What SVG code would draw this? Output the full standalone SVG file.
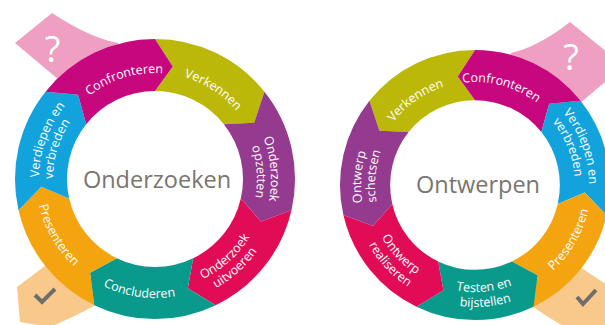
<svg xmlns="http://www.w3.org/2000/svg" width="605" height="325" viewBox="0 0 605 325">
  <style>
    .lbl{font-family:"Open Sans","Liberation Sans",sans-serif;font-size:12.5px;fill:#ffffff;}
    .title{font-family:"Open Sans","Liberation Sans",sans-serif;font-size:23.5px;fill:#7a7570;text-anchor:middle;}
    .mark{font-family:"Open Sans","Liberation Sans",sans-serif;font-size:36px;fill:#ffffff;text-anchor:middle;}
    .check{fill:none;stroke:#6e6e6e;stroke-width:4;}
    .magenta{fill:#c6077d;}
    .olive{fill:#bcb80a;}
    .purple{fill:#953b8f;}
    .crimson{fill:#e20b56;}
    .teal{fill:#0a9a8c;}
    .orange{fill:#f4a40e;}
    .blue{fill:#13a3dc;}
    .start{fill:#efa0c2;}
    .finish{fill:#f8c98b;}
  </style>
  <defs>
    <!-- one ring segment, clockwise arrow, spanning 0..360/7 degrees (outer 140, inner 88) -->
    <path id="segL" d="M0,-140 A140,140 0 0 1 109.456,-87.289 L99.142,-56.274 L68.801,-54.867 A88,88 0 0 0 0,-88 L17.833,-112.597 Z"/>
    <!-- mirrored, slightly smaller segment, counter-clockwise arrow -->
    <path id="segR" d="M0,-135 A135,135 0 0 0 -105.547,-84.172 L-95.601,-54.264 L-66.344,-52.907 A84.857,84.857 0 0 1 0,-84.857 L-17.196,-108.576 Z"/>
    <!-- label baselines: o* = over the top (text faces outward), i* = under the bottom (text faces inward) -->
    <path id="lo106" d="M-106,0 A106,106 0 0 1 106,0"/>
    <path id="lo116" d="M-116,0 A116,116 0 0 1 116,0"/>
    <path id="lo102" d="M-102,0 A102,102 0 0 1 102,0"/>
    <path id="li119" d="M-119,0 A119,119 0 0 0 119,0"/>
    <path id="li111" d="M-111,0 A111,111 0 0 0 111,0"/>
    <path id="li125" d="M-125,0 A125,125 0 0 0 125,0"/>
    <path id="ro103" d="M-103,0 A103,103 0 0 1 103,0"/>
    <path id="ro114" d="M-114,0 A114,114 0 0 1 114,0"/>
    <path id="ro100" d="M-100,0 A100,100 0 0 1 100,0"/>
    <path id="ri116" d="M-116,0 A116,116 0 0 0 116,0"/>
    <path id="ri107" d="M-107,0 A107,107 0 0 0 107,0"/>
    <path id="ri122" d="M-122,0 A122,122 0 0 0 122,0"/>
  </defs>

  <rect width="605" height="325" fill="#ffffff"/>

  <!-- entry and exit tabs behind the rings -->
  <g id="oz-vraag">
    <path class="start" d="M65,85 L15,43 L52,13 Q90,38 118,43 L125,75 Z"/>
    <text class="mark" x="52.5" y="62">?</text>
  </g>
  <g id="oz-klaar">
    <path class="finish" d="M58,256 L17,287 L20,322 L50,327 Q72,318 94,306 L100,285 Z"/>
    <path class="check" d="M35,295 L42,302 L55,289"/>
  </g>
  <g id="ow-vraag">
    <path class="start" d="M566,115 L624,66 L570,22 Q538,47 511,53 L504,85 Z"/>
    <text class="mark" x="571" y="70">?</text>
  </g>
  <g id="ow-klaar">
    <path class="finish" d="M566,258 L612,288 L612,330 L570,330 Q552,320 533,307 L528,287 Z"/>
    <path class="check" d="M577,297 L583,304 L596,290"/>
  </g>

  <!-- research cycle, clockwise -->
  <g id="onderzoeken" transform="translate(155,179)">
    <g id="oz-verkennen">
      <use href="#segL" class="olive"/>
      <text class="lbl" transform="rotate(33)"><textPath href="#lo106" startOffset="50%" text-anchor="middle">Verkennen</textPath></text>
    </g>
    <g id="oz-opzetten">
      <use href="#segL" class="purple" transform="rotate(51.43)"/>
      <text class="lbl" transform="rotate(85)"><textPath href="#lo116" startOffset="50%" text-anchor="middle">Onderzoek</textPath></text>
      <text class="lbl" transform="rotate(86)"><textPath href="#lo102" startOffset="50%" text-anchor="middle">opzetten</textPath></text>
    </g>
    <g id="oz-uitvoeren">
      <use href="#segL" class="crimson" transform="rotate(102.86)"/>
      <text class="lbl" transform="rotate(-42)"><textPath href="#li111" startOffset="50%" text-anchor="middle">Onderzoek</textPath></text>
      <text class="lbl" transform="rotate(-42)"><textPath href="#li125" startOffset="50%" text-anchor="middle">uitvoeren</textPath></text>
    </g>
    <g id="oz-concluderen">
      <use href="#segL" class="teal" transform="rotate(154.29)"/>
      <text class="lbl" transform="rotate(8)"><textPath href="#li119" startOffset="50%" text-anchor="middle">Concluderen</textPath></text>
    </g>
    <g id="oz-presenteren">
      <use href="#segL" class="orange" transform="rotate(205.71)"/>
      <text class="lbl" transform="rotate(60)"><textPath href="#li119" startOffset="50%" text-anchor="middle">Presenteren</textPath></text>
    </g>
    <g id="oz-verdiepen">
      <use href="#segL" class="blue" transform="rotate(257.14)"/>
      <text class="lbl" transform="rotate(290)"><textPath href="#lo116" startOffset="50%" text-anchor="middle">Verdiepen en</textPath></text>
      <text class="lbl" transform="rotate(287)"><textPath href="#lo102" startOffset="50%" text-anchor="middle">verbreden</textPath></text>
    </g>
    <g id="oz-confronteren">
      <use href="#segL" class="magenta" transform="rotate(308.57)"/>
      <text class="lbl" transform="rotate(343)"><textPath href="#lo106" startOffset="50%" text-anchor="middle">Confronteren</textPath></text>
    </g>
    <text id="oz-titel" class="title" x="2" y="9">Onderzoeken</text>
  </g>

  <!-- design cycle, counter-clockwise -->
  <g id="ontwerpen" transform="translate(475,185)">
    <g id="ow-verkennen">
      <use href="#segR" class="olive"/>
      <text class="lbl" transform="rotate(325)"><textPath href="#ro103" startOffset="50%" text-anchor="middle">Verkennen</textPath></text>
    </g>
    <g id="ow-confronteren">
      <use href="#segR" class="magenta" transform="rotate(51.43)"/>
      <text class="lbl" transform="rotate(15)"><textPath href="#ro103" startOffset="50%" text-anchor="middle">Confronteren</textPath></text>
    </g>
    <g id="ow-verdiepen">
      <use href="#segR" class="blue" transform="rotate(102.86)"/>
      <text class="lbl" transform="rotate(70)"><textPath href="#ro114" startOffset="50%" text-anchor="middle">Verdiepen en</textPath></text>
      <text class="lbl" transform="rotate(68)"><textPath href="#ro100" startOffset="50%" text-anchor="middle">verbreden</textPath></text>
    </g>
    <g id="ow-presenteren">
      <use href="#segR" class="orange" transform="rotate(154.29)"/>
      <text class="lbl" transform="rotate(-60)"><textPath href="#ri116" startOffset="50%" text-anchor="middle">Presenteren</textPath></text>
    </g>
    <g id="ow-testen">
      <use href="#segR" class="teal" transform="rotate(-154.29)"/>
      <text class="lbl" transform="rotate(-5)"><textPath href="#ri107" startOffset="50%" text-anchor="middle">Testen en</textPath></text>
      <text class="lbl" transform="rotate(-5)"><textPath href="#ri122" startOffset="50%" text-anchor="middle">bijstellen</textPath></text>
    </g>
    <g id="ow-realiseren">
      <use href="#segR" class="crimson" transform="rotate(-102.86)"/>
      <text class="lbl" transform="rotate(47)"><textPath href="#ri107" startOffset="50%" text-anchor="middle">Ontwerp</textPath></text>
      <text class="lbl" transform="rotate(47)"><textPath href="#ri122" startOffset="50%" text-anchor="middle">realiseren</textPath></text>
    </g>
    <g id="ow-schetsen">
      <use href="#segR" class="purple" transform="rotate(-51.43)"/>
      <text class="lbl" transform="rotate(274)"><textPath href="#ro114" startOffset="50%" text-anchor="middle">Ontwerp</textPath></text>
      <text class="lbl" transform="rotate(275)"><textPath href="#ro100" startOffset="50%" text-anchor="middle">schetsen</textPath></text>
    </g>
    <text id="ow-titel" class="title" x="3" y="8">Ontwerpen</text>
  </g>
</svg>
